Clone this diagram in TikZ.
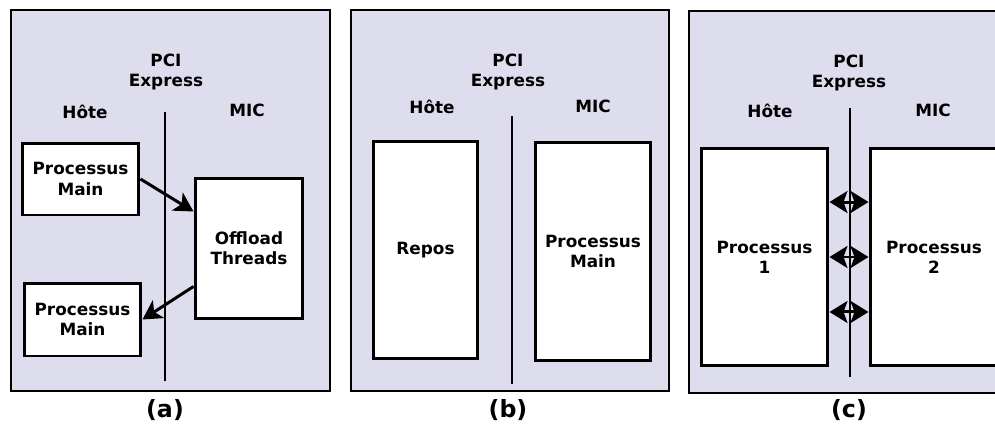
\documentclass[tikz,border=0pt]{standalone}
\usepackage{fontspec}
\setmainfont{DejaVu Sans}
\usetikzlibrary{arrows.meta}
\definecolor{panelbg}{RGB}{221,221,238}
\begin{document}
\begin{tikzpicture}[x=0.02cm,y=-0.02cm,
        font=\fontsize{9.6}{11.5}\selectfont\bfseries, line width=1.7pt,
        panel/.style={draw, fill=panelbg},
        box/.style={draw, fill=white, align=center, inner sep=0pt},
        lbl/.style={align=center, inner sep=0pt},
        caption/.style={inner sep=0pt, font=\fontsize{13.5}{16}\selectfont\bfseries},
        flow/.style={-{Stealth[length=0.38cm,width=0.42cm,inset=0.1cm]}},
        link/.style={{Stealth[length=0.36cm,width=0.44cm,inset=0.08cm]}-{Stealth[length=0.36cm,width=0.44cm,inset=0.08cm]}}]
            \useasboundingbox (0,0) rectangle (995,426);
            \clip (0,0) rectangle (995,426);
            \draw[panel] (11,10) rectangle (330,391);
            \draw[panel] (351,10) rectangle (669,391);
            \draw[panel] (689,11) rectangle (1010,393);
            \node[caption] (cap-a) at (165,410) {(a)};
            \node[caption] (cap-b) at (508,410) {(b)};
            \node[caption] (cap-c) at (849,410) {(c)};
            \node[lbl] (pci-a) at (166,72) {PCI\\Express};
            \node[lbl] (pci-b) at (508,72) {PCI\\Express};
            \node[lbl] (pci-c) at (849,73) {PCI\\Express};
            \node[lbl] (hote-a) at (85,112) {Hôte};
            \node[lbl] (mic-a) at (247,110) {MIC};
            \node[lbl] (hote-b) at (432,107) {Hôte};
            \node[lbl] (mic-b) at (593,106) {MIC};
            \node[lbl] (hote-c) at (770,111) {Hôte};
            \node[lbl] (mic-c) at (933,110) {MIC};
            \draw (165,112) -- (165,381);
            \draw (512,116) -- (512,384);
            \draw (850,108) -- (850,377);
            \node[box, minimum width=2.34cm, minimum height=1.44cm] (main-a1) at (80.5,179) {Processus\\Main};
            \node[box, minimum width=2.16cm, minimum height=2.82cm] (offload) at (249,248.5) {Offload\\Threads};
            \node[box, minimum width=2.34cm, minimum height=1.46cm] (main-a2) at (82.5,319.5) {Processus\\Main};
            \draw[flow] (main-a1.east) -- ([yshift=-0.7cm]offload.north west);
            \draw[flow] ([yshift=0.68cm]offload.south west) -- (main-a2.east);
            \node[box, minimum width=2.1cm, minimum height=4.36cm] (repos) at (425.5,250) {Repos};
            \node[box, minimum width=2.32cm, minimum height=4.38cm] (main-b) at (593,251.5) {Processus\\Main};
            \node[box, minimum width=2.54cm, minimum height=4.36cm] (proc1) at (764.5,257) {Processus\\1};
            \node[box, minimum width=2.56cm, minimum height=4.36cm] (proc2) at (934,257) {Processus\\2};
            \foreach \d in {-1.1,0,1.1}
                \draw[link] ([yshift=\d cm]proc1.east) -- ([yshift=\d cm]proc2.west);
        \end{tikzpicture}
\end{document}
